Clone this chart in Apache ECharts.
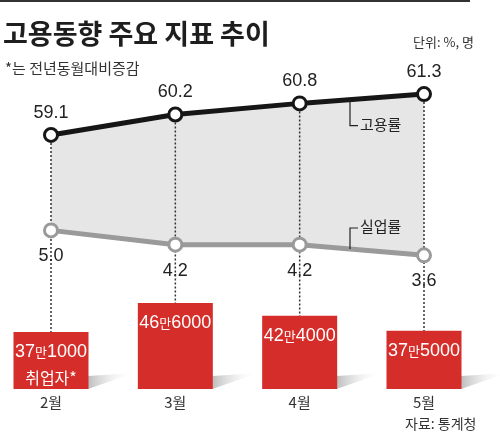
<!DOCTYPE html>
<html>
<head>
<meta charset="utf-8">
<script src="https://cdn.jsdelivr.net/npm/echarts@6/dist/echarts.min.js"></script>
<style>
  html, body { margin: 0; padding: 0; background: #fff; }
  #chart { width: 500px; height: 432px; }
</style>
</head>
<body>
<div id="chart"></div>
<script>
// data
var months = ['2월', '3월', '4월', '5월'];
var empRate = [59.1, 60.2, 60.8, 61.3];     // 고용률
var unempRate = [5.0, 4.2, 4.2, 3.6];       // 실업률
var employed = [371000, 466000, 424000, 375000]; // 취업자 전년동월대비증감

var FONT = "'Liberation Sans', 'Noto Sans CJK KR', sans-serif";
var KFONT = "'Noto Sans CJK KR', sans-serif";
var BAR_MIN = 184000;

var chart = echarts.init(document.getElementById('chart'));

function manLabel(v, i) {
    var man = Math.floor(v / 10000);
    var rest = String(v % 10000);
    while (rest.length < 4) rest = '0' + rest;
    var s = '{n|' + man + '}{s|만}{n|' + rest + '}';
    if (i === 0) s += '\n{k|취업자*}';
    return s;
}

var option = {
    backgroundColor: '#fff',
    animation: false,
    title: [
        {
            text: '고용동향 주요 지표 추이',
            left: -2, top: 15,
            textStyle: { fontFamily: KFONT, fontSize: 27, fontWeight: 'bold', color: '#1e1e1e' }
        },
        {
            text: '*는 전년동월대비증감',
            left: 0, top: 56,
            textStyle: { fontFamily: KFONT, fontSize: 15, fontWeight: 'normal', color: '#333' }
        },
        {
            text: '단위: %, 명',
            left: 408, top: 31,
            textStyle: { fontFamily: KFONT, fontSize: 13, fontWeight: 'normal', color: '#333' }
        },
        {
            text: '자료: 통계청',
            left: 400, top: 412,
            textStyle: { fontFamily: KFONT, fontSize: 14, fontWeight: 'normal', color: '#333' }
        }
    ],
    grid: { left: 51, right: 76, top: 70, bottom: 43 },
    xAxis: {
        type: 'category',
        data: months,
        boundaryGap: false,
        axisLine: { show: false },
        axisTick: { show: false },
        splitLine: { show: false },
        axisLabel: { fontFamily: KFONT, fontSize: 15, color: '#333', margin: 6 }
    },
    yAxis: [
        { type: 'value', min: 45.4, max: 62.6, show: false },
        { type: 'value', min: -3.9, max: 14, show: false },
        { type: 'value', min: BAR_MIN, max: 1230000, show: false }
    ],
    series: [
        {
            // gray band under 고용률
            type: 'line', yAxisIndex: 0, data: empRate, z: 1, silent: true,
            symbol: 'none', lineStyle: { width: 0, opacity: 0 },
            areaStyle: { color: '#e6e6e7', opacity: 1, origin: 'start' }
        },
        {
            // white fill under 실업률 closes the band
            type: 'line', yAxisIndex: 1, data: unempRate, z: 2, silent: true,
            symbol: 'none', lineStyle: { width: 0, opacity: 0 },
            areaStyle: { color: '#fff', opacity: 1, origin: 'start' }
        },
        {
            // dotted drop lines
            type: 'custom', yAxisIndex: 0, z: 3, silent: true,
            data: empRate.map(function (v, i) { return [i, v]; }),
            renderItem: function (params, api) {
                var p = api.coord([api.value(0), api.value(1)]);
                var bottom = params.coordSys.y + params.coordSys.height;
                return {
                    type: 'line',
                    shape: { x1: p[0], y1: p[1], x2: p[0], y2: bottom },
                    style: { stroke: '#333', lineWidth: 1.5, lineDash: [2, 2] }
                };
            }
        },
        {
            // bar floor shadows
            type: 'custom', yAxisIndex: 2, z: 3, silent: true,
            data: employed.map(function (v, i) { return [i, v]; }),
            renderItem: function (params, api) {
                var p = api.coord([api.value(0), BAR_MIN]);
                var xr = p[0] + 37, b = p[1];
                return {
                    type: 'polygon',
                    shape: { points: [[xr, b], [xr, b - 13], [xr + 46, b - 16]] },
                    style: {
                        fill: {
                            type: 'linear', x: 0, y: 0, x2: 1, y2: 0,
                            colorStops: [{ offset: 0, color: '#bdbdbd' }, { offset: 1, color: 'rgba(255,255,255,0)' }]
                        }
                    }
                };
            }
        },
        {
            name: '취업자',
            type: 'bar', yAxisIndex: 2, z: 4, data: employed, barWidth: 75,
            itemStyle: { color: '#d52d29' },
            label: {
                show: true, position: 'insideTop', distance: 8,
                formatter: function (p) { return manLabel(p.value, p.dataIndex); },
                rich: {
                    n: { fontFamily: FONT, fontSize: 18, color: '#fff', lineHeight: 25 },
                    s: { fontFamily: KFONT, fontSize: 13, color: '#fff', lineHeight: 25 },
                    k: { fontFamily: KFONT, fontSize: 16, color: '#fff', lineHeight: 25 }
                }
            }
        },
        {
            name: '실업률',
            type: 'line', yAxisIndex: 1, z: 5, data: unempRate,
            symbol: 'circle', symbolSize: 13,
            lineStyle: { color: '#9a9a9a', width: 5 },
            itemStyle: { color: '#fff', borderColor: '#9a9a9a', borderWidth: 3 },
            label: {
                show: true, position: 'bottom', distance: 9,
                formatter: function (p) { return p.value.toFixed(1); },
                fontFamily: FONT, fontSize: 18, color: '#222'
            }
        },
        {
            name: '고용률',
            type: 'line', yAxisIndex: 0, z: 5, data: empRate,
            symbol: 'circle', symbolSize: 13,
            lineStyle: { color: '#161616', width: 5 },
            itemStyle: { color: '#fff', borderColor: '#161616', borderWidth: 3 },
            label: {
                show: true, position: 'top', distance: 5,
                formatter: function (p) { return p.value.toFixed(1); },
                fontFamily: FONT, fontSize: 18, color: '#222'
            }
        }
    ]
};
chart.setOption(option);

// series name callouts, hooked onto the lines between 4월 and 5월
function lineYAt(vals, axisIdx, x) {
    var a = chart.convertToPixel({ xAxisIndex: 0, yAxisIndex: axisIdx }, [2, vals[2]]);
    var b = chart.convertToPixel({ xAxisIndex: 0, yAxisIndex: axisIdx }, [3, vals[3]]);
    return a[1] + (b[1] - a[1]) * (x - a[0]) / (b[0] - a[0]);
}
var hx = 350;
var yEmp = lineYAt(empRate, 0, hx);
var yUn = lineYAt(unempRate, 1, hx);
chart.setOption({
    graphic: [
        { type: 'rect', shape: { x: 0, y: 0, width: 470, height: 2 }, style: { fill: '#333' } },
        {
            type: 'polyline', z: 10,
            shape: { points: [[hx, yEmp], [hx, yEmp + 26], [hx + 8, yEmp + 26]] },
            style: { stroke: '#222', lineWidth: 1.2, fill: null }
        },
        {
            type: 'text', z: 10, left: hx + 10, top: yEmp + 17,
            style: { text: '고용률', font: '15px ' + KFONT, fill: '#222' }
        },
        {
            type: 'polyline', z: 10,
            shape: { points: [[hx, yUn], [hx, yUn - 21], [hx + 8, yUn - 21]] },
            style: { stroke: '#222', lineWidth: 1.2, fill: null }
        },
        {
            type: 'text', z: 10, left: hx + 10, top: yUn - 30,
            style: { text: '실업률', font: '15px ' + KFONT, fill: '#222' }
        }
    ]
});
</script>
</body>
</html>
